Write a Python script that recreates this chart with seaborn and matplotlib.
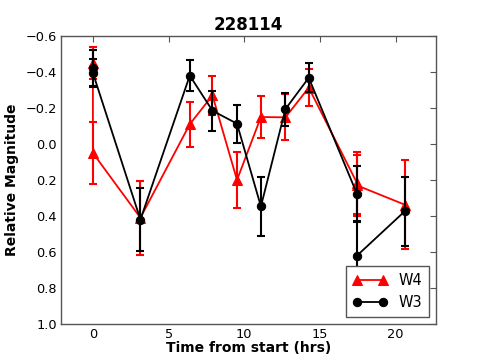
import numpy as np
import pandas as pd
import matplotlib
matplotlib.use("Agg")
import matplotlib.pyplot as plt
import seaborn as sns

w4_time = [0.0, 0.0, 3.14, 6.4, 7.9, 9.52, 11.1, 12.72, 14.26, 17.45, 17.45, 20.6]
w4_mag = [-0.45, 0.05, 0.41, -0.11, -0.27, 0.20, -0.15, -0.148, -0.313, 0.217, 0.23, 0.337]
w4_err = [0.09, 0.17, 0.205, 0.125, 0.11, 0.155, 0.115, 0.128, 0.104, 0.17, 0.17, 0.248]

w3_time = [0.0, 0.0, 3.14, 6.4, 7.9, 9.52, 11.1, 12.72, 14.26, 17.45, 17.45, 20.6]
w3_mag = [-0.42, -0.395, 0.42, -0.38, -0.185, -0.113, 0.347, -0.194, -0.368, 0.278, 0.62, 0.374]
w3_err = [0.10, 0.08, 0.175, 0.085, 0.11, 0.105, 0.163, 0.092, 0.08, 0.157, 0.19, 0.19]

y_ticks = [-0.6, -0.4, -0.2, 0.0, 0.2, 0.4, 0.6, 0.8, 1.0]
x_ticks = [0, 5, 10, 15, 20]

sns.set_style("white", {"xtick.direction": "in", "ytick.direction": "in"})
plt.rcParams["font.family"] = ["DejaVu Sans"]
plt.rcParams["text.color"] = "black"
plt.rcParams["axes.labelcolor"] = "black"
plt.rcParams["xtick.color"] = "black"
plt.rcParams["ytick.color"] = "black"

df4 = pd.DataFrame({"time": w4_time, "mag": w4_mag})
df3 = pd.DataFrame({"time": w3_time, "mag": w3_mag})

fig, ax = plt.subplots(figsize=(4.85, 3.6), dpi=100)
fig.subplots_adjust(left=0.126, right=0.9, bottom=0.1, top=0.9)

# error bars first, then the connected points on top
ax.errorbar(w4_time, w4_mag, yerr=w4_err, fmt="none", ecolor="red",
            elinewidth=1.5, capsize=3, capthick=1.5)
sns.lineplot(data=df4, x="time", y="mag", sort=False, estimator=None,
             color="red", marker="^", markersize=6.5, markeredgecolor="red",
             linewidth=1.3, ax=ax)
h4 = ax.lines[-1]
ax.errorbar(w3_time, w3_mag, yerr=w3_err, fmt="none", ecolor="black",
            elinewidth=1.5, capsize=3, capthick=1.5)
sns.lineplot(data=df3, x="time", y="mag", sort=False, estimator=None,
             color="black", marker="o", markersize=6, markeredgecolor="black",
             linewidth=1.3, ax=ax)
h3 = ax.lines[-1]

leg = ax.legend([h4, h3], ["W4", "W3"], loc="lower right", numpoints=2,
                fontsize=10.5, fancybox=False, framealpha=1, edgecolor="#555555",
                handlelength=2.4, borderpad=0.45)
leg.get_frame().set_linewidth(1)

ax.set_xlim(-2.1, 22.7)
ax.set_ylim(1.0, -0.6)
ax.set_xticks(x_ticks)
ax.set_yticks(y_ticks)
ax.set_yticklabels([f"{t:.1f}".replace("-", "\u2212") for t in y_ticks])
ax.tick_params(axis="both", labelsize=9.3, length=4, pad=3, top=True, right=True,
               color="#555555")
for s in ax.spines.values():
    s.set_color("#555555")
    s.set_linewidth(1)

ax.set_title("228114", fontsize=12, fontweight="bold", pad=4)
ax.set_xlabel("Time from start (hrs)", fontsize=10, fontweight="bold", labelpad=0)
ax.set_ylabel("Relative Magnitude", fontsize=10, fontweight="bold", labelpad=5)

fig.savefig("out.png", dpi=100)
